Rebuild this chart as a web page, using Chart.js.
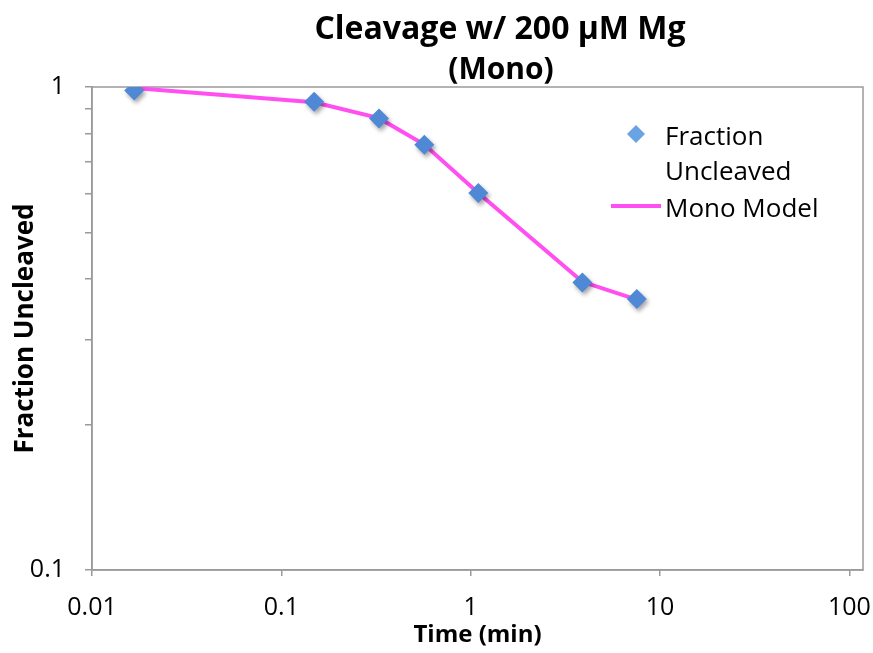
<!DOCTYPE html>
<html>
<head>
<meta charset="utf-8">
<title>Cleavage w/ 200 µM Mg (Mono)</title>
<script src="https://cdn.jsdelivr.net/npm/chart.js@4/dist/chart.umd.min.js"></script>
<style>
  html, body { margin: 0; padding: 0; background: #fff; }
  #wrap { width: 873px; height: 653px; }
</style>
</head>
<body>
<div id="wrap"><canvas id="cleavage-chart" width="873" height="653"></canvas></div>
<script>
// Time points (min) and measured fraction of substrate left uncleaved
const timeMin = [0.0167, 0.149, 0.328, 0.569, 1.097, 3.89, 7.54];
const fractionUncleaved = [0.983, 0.932, 0.861, 0.759, 0.603, 0.394, 0.364];
// Single-exponential fit evaluated at the same times
const monoModel = [0.995, 0.930, 0.862, 0.760, 0.603, 0.395, 0.363];

const xTickValues = [0.01, 0.1, 1, 10, 100];
const yTickValues = [0.1, 0.2, 0.3, 0.4, 0.5, 0.6, 0.7, 0.8, 0.9, 1];
const yTickLabels = ['0.1', '', '', '', '', '', '', '', '', '1'];

const titleLines = ['Cleavage w/ 200 µM Mg', '(Mono)'];
const legendLabels = [['Fraction', 'Uncleaved'], ['Mono Model']];

const axisGrey = '#9a9a9a';
const pointBlue = '#4f89d5';
const legendBlue = '#6aa3e4';
const modelPink = '#ff4ff0';

Chart.defaults.font.family = "'Open Sans', sans-serif";
Chart.defaults.color = '#000';

// Grey box around the plot area
const plotBox = {
    id: 'plotBox',
    beforeDatasetsDraw(chart) {
        const { ctx, chartArea: a } = chart;
        ctx.save();
        ctx.strokeStyle = axisGrey;
        ctx.lineWidth = 1.5;
        ctx.strokeRect(a.left, a.top, a.right - a.left, a.bottom - a.top);
        ctx.restore();
    }
};

// Soft drop shadow under the data markers only
const markerShadow = {
    id: 'markerShadow',
    beforeDatasetDraw(chart, args) {
        if (args.index !== 0) return;
        const ctx = chart.ctx;
        ctx.save();
        ctx.shadowColor = 'rgba(0, 0, 0, 0.35)';
        ctx.shadowBlur = 4;
        ctx.shadowOffsetX = 2;
        ctx.shadowOffsetY = 3;
    },
    afterDatasetDraw(chart, args) {
        if (args.index !== 0) return;
        chart.ctx.restore();
    }
};

// Two-line bold title, each line sized separately
const chartTitle = {
    id: 'chartTitle',
    afterDraw(chart) {
        const ctx = chart.ctx;
        ctx.save();
        ctx.fillStyle = '#000';
        ctx.textAlign = 'center';
        ctx.textBaseline = 'middle';
        ctx.font = "bold 32px 'Open Sans', sans-serif";
        ctx.fillText(titleLines[0], 500, 30);
        ctx.font = "bold 30px 'Open Sans', sans-serif";
        ctx.fillText(titleLines[1], 501, 70);
        ctx.restore();
    }
};

// Legend inside the plot, right side
const sideLegend = {
    id: 'sideLegend',
    afterDraw(chart) {
        const ctx = chart.ctx;
        const ds = chart.data.datasets;
        ctx.save();
        ctx.font = "26px 'Open Sans', sans-serif";
        ctx.textBaseline = 'middle';

        // marker entry
        ctx.fillStyle = legendBlue;
        Chart.helpers.drawPoint(ctx, { pointStyle: 'rectRot', radius: 9, borderWidth: 0 }, 636, 134);
        ctx.fillStyle = '#000';
        legendLabels[0].forEach((t, i) => ctx.fillText(t, 665, 138 + i * 35));

        // line entry
        ctx.strokeStyle = ds[1].borderColor;
        ctx.lineWidth = ds[1].borderWidth;
        ctx.beginPath();
        ctx.moveTo(611, 206);
        ctx.lineTo(661, 206);
        ctx.stroke();
        ctx.fillText(legendLabels[1][0], 665, 210);
        ctx.restore();
    }
};

new Chart(document.getElementById('cleavage-chart'), {
    type: 'scatter',
    data: {
        datasets: [
            {
                label: 'Fraction Uncleaved',
                data: timeMin.map((t, i) => ({ x: t, y: fractionUncleaved[i] })),
                pointStyle: 'rectRot',
                pointRadius: 10,
                pointBorderWidth: 0,
                backgroundColor: pointBlue,
                borderColor: pointBlue,
                showLine: false
            },
            {
                label: 'Mono Model',
                data: timeMin.map((t, i) => ({ x: t, y: monoModel[i] })),
                showLine: true,
                borderColor: modelPink,
                borderWidth: 4,
                pointRadius: 0,
                tension: 0
            }
        ]
    },
    options: {
        responsive: false,
        animation: false,
        layout: { padding: { top: 87, right: 10, bottom: 0, left: 0 } },
        plugins: {
            legend: { display: false },
            tooltip: { enabled: false }
        },
        scales: {
            x: {
                type: 'logarithmic',
                min: 0.01,
                max: 118,
                afterBuildTicks(scale) {
                    scale.ticks = xTickValues.map(v => ({ value: v }));
                },
                afterFit(scale) {
                    scale.height = 83;
                    // let the "100" label hang past the plot edge
                    scale.paddingLeft = 0;
                    scale.paddingRight = 0;
                },
                grid: { drawOnChartArea: false, color: axisGrey, lineWidth: 1.5, tickLength: 6 },
                border: { color: axisGrey, width: 1.5 },
                ticks: {
                    autoSkip: false,
                    maxRotation: 0,
                    padding: 17,
                    font: { size: 25 },
                    callback: v => String(v)
                },
                title: {
                    display: true,
                    text: 'Time (min)',
                    font: { size: 24, weight: 'bold' },
                    padding: { top: 4, bottom: 3 }
                }
            },
            y: {
                type: 'logarithmic',
                min: 0.1,
                max: 1,
                afterBuildTicks(scale) {
                    scale.ticks = yTickValues.map(v => ({ value: v }));
                },
                afterFit(scale) { scale.width = 92; },
                grid: { drawOnChartArea: false, color: axisGrey, lineWidth: 1.5, tickLength: 7 },
                border: { color: axisGrey, width: 1.5 },
                ticks: {
                    autoSkip: false,
                    padding: 20,
                    font: { size: 25 },
                    callback: (v, i) => yTickLabels[i]
                },
                title: {
                    display: true,
                    text: 'Fraction Uncleaved',
                    font: { size: 26, weight: 'bold' },
                    padding: { top: 10, bottom: 0 }
                }
            }
        }
    },
    plugins: [plotBox, markerShadow, chartTitle, sideLegend]
});
</script>
</body>
</html>
